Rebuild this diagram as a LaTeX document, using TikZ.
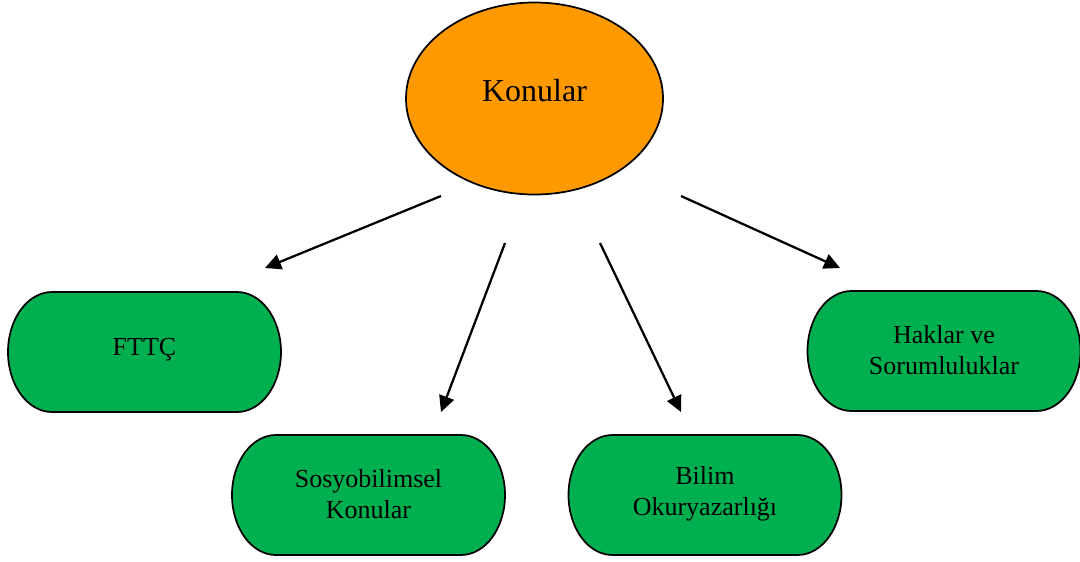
\documentclass[tikz,border=0pt]{standalone}
\usepackage{fontspec}
\setmainfont{Liberation Serif}
\usetikzlibrary{shapes.geometric,arrows.meta}
\definecolor{konorange}{HTML}{FF9900}
\definecolor{termgreen}{HTML}{00B050}
\tikzset{
  termshape/.style={draw=black, line width=1.3pt, fill=termgreen},
  termtext/.style={align=center, inner sep=0pt, minimum width=204.75pt, minimum height=90pt,
                   font=\fontsize{19.5}{23}\selectfont},
  conn/.style={line width=1.7pt, -{Triangle[length=12pt,width=11.5pt]}},
}
% #1 x centre, #2 y centre (pixels, y down)
\newcommand\termpath[2]{%
  \path[termshape] ({#1-136.5+44},{#2-60}) -- ({#1+136.5-44},{#2-60})
    arc[start angle=-90, end angle=90, x radius=44, y radius=60]
    -- ({#1-136.5+44},{#2+60})
    arc[start angle=90, end angle=270, x radius=44, y radius=60] -- cycle;}
\begin{document}
\begin{tikzpicture}[x=0.75pt, y=-0.75pt]
\useasboundingbox (0,0) rectangle (1080,561);
% central ellipse
\node[ellipse, draw=black, line width=1.3pt, fill=konorange,
      minimum width=192.75pt, minimum height=144pt, inner sep=0pt] (k) at (534.5,98.5) {};
\node[font=\fontsize{24}{28}\selectfont, inner sep=0pt] (kt) at (534.5,91) {Konular};
% terminator boxes
\termpath{144.5}{352}
\node[termtext] (f) at (144.5,350) {FTTÇ};
\termpath{368.5}{495}
\node[termtext] (s) at (368.5,494) {Sosyobilimsel\\Konular};
\termpath{705}{495}
\node[termtext] (b) at (705,494) {Bilim\\Okuryazarlığı};
\termpath{944}{351}
\node[termtext] (h) at (944,350) {Haklar ve\\Sorumluluklar};
% arrow end points (free-floating connectors)
\coordinate (a1s) at (441,196); \coordinate (a1e) at (265,268);
\coordinate (a2s) at (505,243); \coordinate (a2e) at (441,412);
\coordinate (a3s) at (600,243); \coordinate (a3e) at (681,412);
\coordinate (a4s) at (681,196); \coordinate (a4e) at (840,268);
\draw[conn] (a1s) -- (a1e);
\draw[conn] (a2s) -- (a2e);
\draw[conn] (a3s) -- (a3e);
\draw[conn] (a4s) -- (a4e);
\end{tikzpicture}
\end{document}
